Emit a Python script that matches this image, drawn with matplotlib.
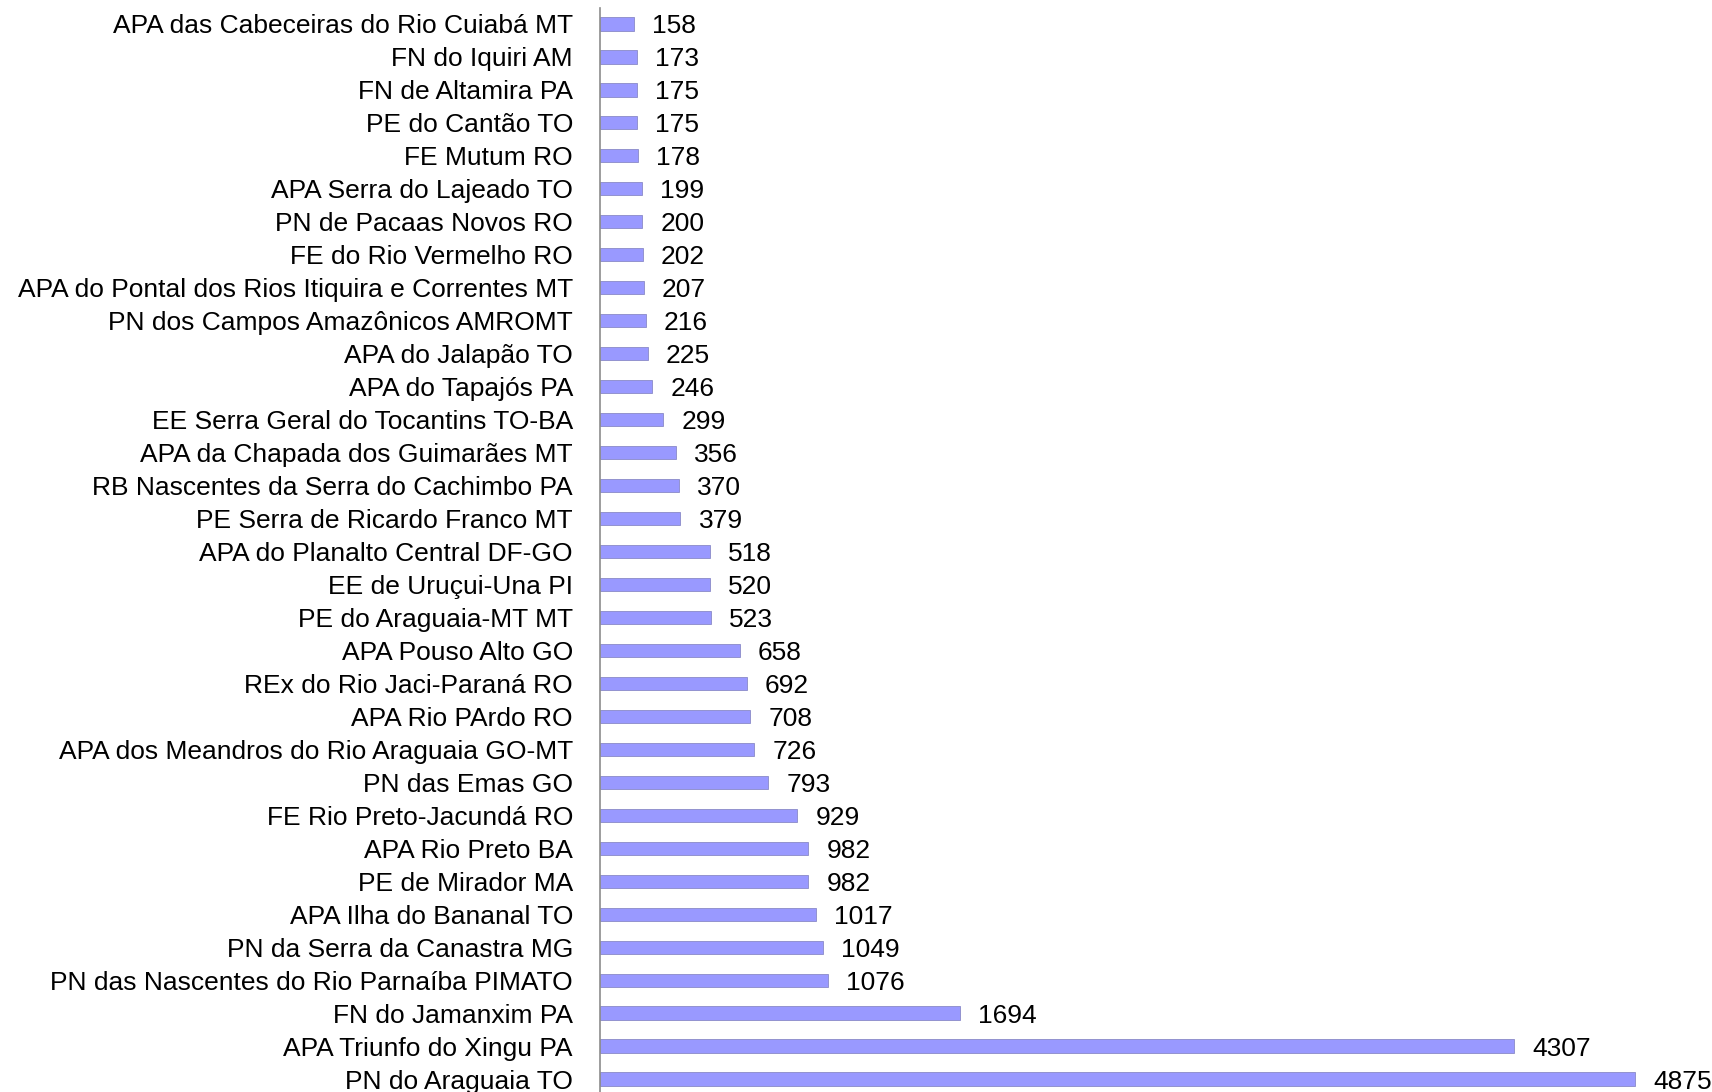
import matplotlib.pyplot as plt

plt.rcParams['font.family'] = ['Liberation Sans', 'DejaVu Sans']

labels = [
    "APA das Cabeceiras do Rio Cuiabá MT",
    "FN do Iquiri AM",
    "FN de Altamira PA",
    "PE do Cantão TO",
    "FE Mutum RO",
    "APA Serra do Lajeado TO",
    "PN de Pacaas Novos RO",
    "FE do Rio Vermelho RO",
    "APA do Pontal dos Rios Itiquira e Correntes MT",
    "PN dos Campos Amazônicos AMROMT",
    "APA do Jalapão TO",
    "APA do Tapajós PA",
    "EE Serra Geral do Tocantins TO-BA",
    "APA da Chapada dos Guimarães MT",
    "RB Nascentes da Serra do Cachimbo PA",
    "PE Serra de Ricardo Franco MT",
    "APA do Planalto Central DF-GO",
    "EE de Uruçui-Una PI",
    "PE do Araguaia-MT MT",
    "APA Pouso Alto GO",
    "REx do Rio Jaci-Paraná RO",
    "APA Rio PArdo RO",
    "APA dos Meandros do Rio Araguaia GO-MT",
    "PN das Emas GO",
    "FE Rio Preto-Jacundá RO",
    "APA Rio Preto BA",
    "PE de Mirador MA",
    "APA Ilha do Bananal TO",
    "PN da Serra da Canastra MG",
    "PN das Nascentes do Rio Parnaíba PIMATO",
    "FN do Jamanxim PA",
    "APA Triunfo do Xingu PA",
    "PN do Araguaia TO",
]
values = [158, 173, 175, 175, 178, 199, 200, 202, 207, 216, 225, 246, 299,
          356, 370, 379, 518, 520, 523, 658, 692, 708, 726, 793, 929, 982,
          982, 1017, 1049, 1076, 1694, 4307, 4875]

W, H = 1712, 1092
fig = plt.figure(figsize=(W / 100, H / 100), dpi=100)
ax = fig.add_axes([600 / W, -3.5 / H, 1 - 600 / W, 1088 / H])

pos = list(range(len(labels)))
ax.barh(pos, values, height=0.4, color="#9999ff", edgecolor="#8a8ac8",
        linewidth=0.6)
ax.set_ylim(len(labels) - 0.5, -0.5)
ax.set_xlim(0, 5238)

ax.set_yticks(pos)
ax.set_yticklabels(labels, fontsize=19, va="center_baseline")
ax.tick_params(axis="y", length=0, pad=19.5)
ax.set_xticks([])

for s in ["top", "right", "bottom"]:
    ax.spines[s].set_visible(False)
ax.spines["left"].set_color("#8c8c8c")
ax.spines["left"].set_linewidth(1.2)

for p, v in zip(pos, values):
    ax.annotate(str(v), xy=(v, p), xytext=(13, 0), textcoords="offset points",
                va="center_baseline", ha="left", fontsize=19)

fig.savefig("out.png", dpi=100)
